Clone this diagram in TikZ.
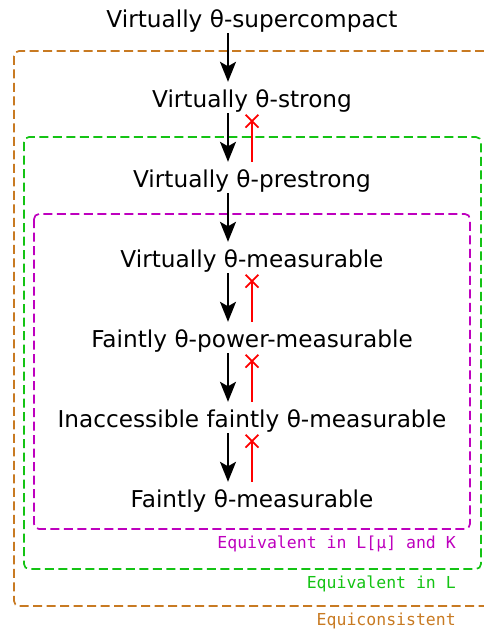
\documentclass[tikz,border=0pt]{standalone}
\usepackage{fontspec}
\setmainfont{DejaVu Sans}
\setmonofont{DejaVu Sans Mono}
\usetikzlibrary{arrows.meta,shapes.misc}
\definecolor{eqcol}{RGB}{200,122,34}
\definecolor{lcol}{RGB}{20,195,20}
\definecolor{lmcol}{RGB}{190,0,190}

\begin{document}
\begin{tikzpicture}[x=1pt,y=-1pt,
  lvl/.style={anchor=base,inner xsep=2pt,inner ysep=0pt,text height=17pt,text depth=6pt,font=\fontsize{23.2}{28}\selectfont},
  impl/.style={-{Stealth[length=20pt,width=16pt,inset=4.5pt]},line width=2pt,shorten >=8pt},
  noimpl/.style={red,line width=1.8pt,shorten <=8pt},
  crossmark/.style={cross out,draw=red,line width=1.8pt,minimum size=11pt,inner sep=0pt},
  region/.style={dash pattern=on 9pt off 4.5pt,line width=1.7pt,rounded corners=5pt},
  regionlabel/.style={anchor=base east,inner sep=0pt,font=\ttfamily\fontsize{16.5}{20}\selectfont}]
\useasboundingbox (0,0) rectangle (484,630);

\draw[region,draw=eqcol] (484,51) -| (14,606) -- (484,606);
\draw[region,draw=lcol] (24,137) rectangle (481,569);
\draw[region,draw=lmcol] (34,214) rectangle (470,529);

\node[lvl] (vsc) at (252,27) {Virtually θ-supercompact};
\node[lvl] (vs) at (252,107) {Virtually θ-strong};
\node[lvl] (vps) at (252,187) {Virtually θ-prestrong};
\node[lvl] (vm) at (252,267) {Virtually θ-measurable};
\node[lvl] (fpm) at (252,347) {Faintly θ-power-measurable};
\node[lvl] (ifm) at (252,427) {Inaccessible faintly θ-measurable};
\node[lvl] (fm) at (252,507) {Faintly θ-measurable};

\foreach \a/\b in {vsc/vs,vs/vps,vps/vm,vm/fpm,fpm/ifm,ifm/fm}
  \draw[impl] ([xshift=-24pt]\a.south) -- ([xshift=-24pt]\b.north);

\foreach \a/\b in {vs/vps,vm/fpm,fpm/ifm,ifm/fm}{
  \coordinate (x\a) at ([yshift=-8pt]\a.south);
  \draw[noimpl] (\b.north) -- (x\a);
  \node[crossmark] (c\a) at (x\a) {};
}

\node[regionlabel,text=lmcol] (lmlabel) at (456,548) {Equivalent in L[μ] and K};
\node[regionlabel,text=lcol] (llabel) at (456,588) {Equivalent in L};
\node[regionlabel,text=eqcol] (eqlabel) at (456,625) {Equiconsistent};
\end{tikzpicture}
\end{document}
